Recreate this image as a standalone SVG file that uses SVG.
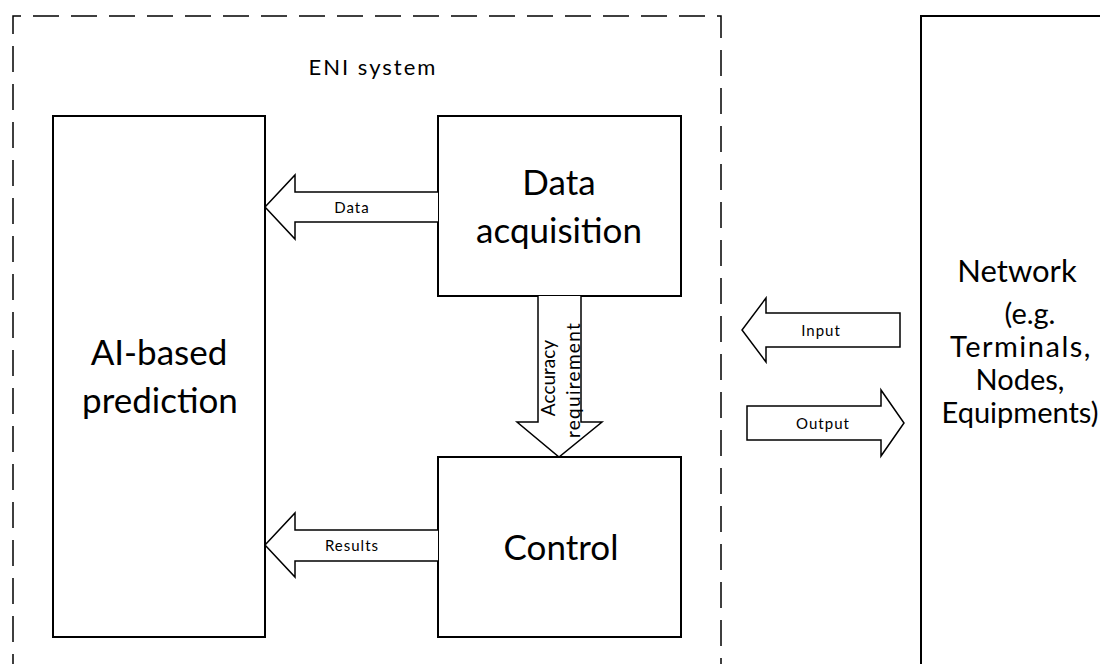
<svg xmlns="http://www.w3.org/2000/svg" width="1100" height="664" viewBox="0 0 1100 664">
<style>
.box{fill:#fff;stroke:#000;stroke-width:2}
.arr{fill:#fff;stroke:#000;stroke-width:1.5;stroke-linejoin:miter}
text{font-family:Lato,"Liberation Sans",sans-serif;fill:#000}
.big{font-size:35px;text-anchor:middle}
.net{font-size:29px;text-anchor:middle}
.sm{font-size:15px;text-anchor:middle;letter-spacing:1px}
.vt{font-size:19px;text-anchor:middle}
</style>
<rect width="1100" height="664" fill="#fff"/>
<g id="eni-system">
<path d="M13 680 V16 H721 V680" fill="none" stroke="#000" stroke-width="1.5" stroke-dasharray="26 12"/>
<text x="373" y="75" style="font-size:22px;text-anchor:middle;letter-spacing:2px">ENI system</text>
</g>
<g id="ai-prediction">
<rect class="box" x="53" y="116" width="212" height="521"/>
<text class="big" x="159" y="365">AI-based</text>
<text class="big" x="160" y="413">prediction</text>
</g>
<g id="data-acquisition">
<rect class="box" x="438" y="116" width="243" height="180"/>
<text class="big" x="559" y="195">Data</text>
<text class="big" x="559" y="243">acquisition</text>
</g>
<g id="control">
<rect class="box" x="438" y="457" width="243" height="180"/>
<text class="big" x="561" y="560">Control</text>
</g>
<g id="network">
<rect class="box" x="921" y="16" width="200" height="680"/>
<text x="1017" y="282" style="font-size:31px;text-anchor:middle">Network</text>
<text class="net" x="1030" y="324">(e.g.</text>
<text class="net" x="1021" y="357" style="letter-spacing:1.5px">Terminals,</text>
<text class="net" x="1020" y="390">Nodes,</text>
<text class="net" x="1020" y="423">Equipments)</text>
</g>
<g id="connectors">
<path class="arr" d="M438 192 H295 V175 L265 207 L295 239 V222 H438"/>
<text class="sm" x="352" y="213">Data</text>
<path class="arr" d="M438 530 H295 V513 L265 545 L295 577 V561 H438"/>
<text class="sm" x="352" y="551">Results</text>
<path class="arr" d="M538 296 V422 H517 L559 457 L602 422 H581 V296"/>
<text class="vt" transform="translate(555 378) rotate(-90)">Accuracy</text>
<text class="vt" transform="translate(580 380) rotate(-90)" style="letter-spacing:1.3px">requirement</text>
<path class="arr" d="M900 313 H766 V298 L742 330 L766 362 V347 H900 Z"/>
<text class="sm" x="821" y="336">Input</text>
<path class="arr" d="M747 406 H881 V390 L904 423 L881 456 V440 H747 Z"/>
<text class="sm" x="823" y="429">Output</text>
</g>
</svg>
